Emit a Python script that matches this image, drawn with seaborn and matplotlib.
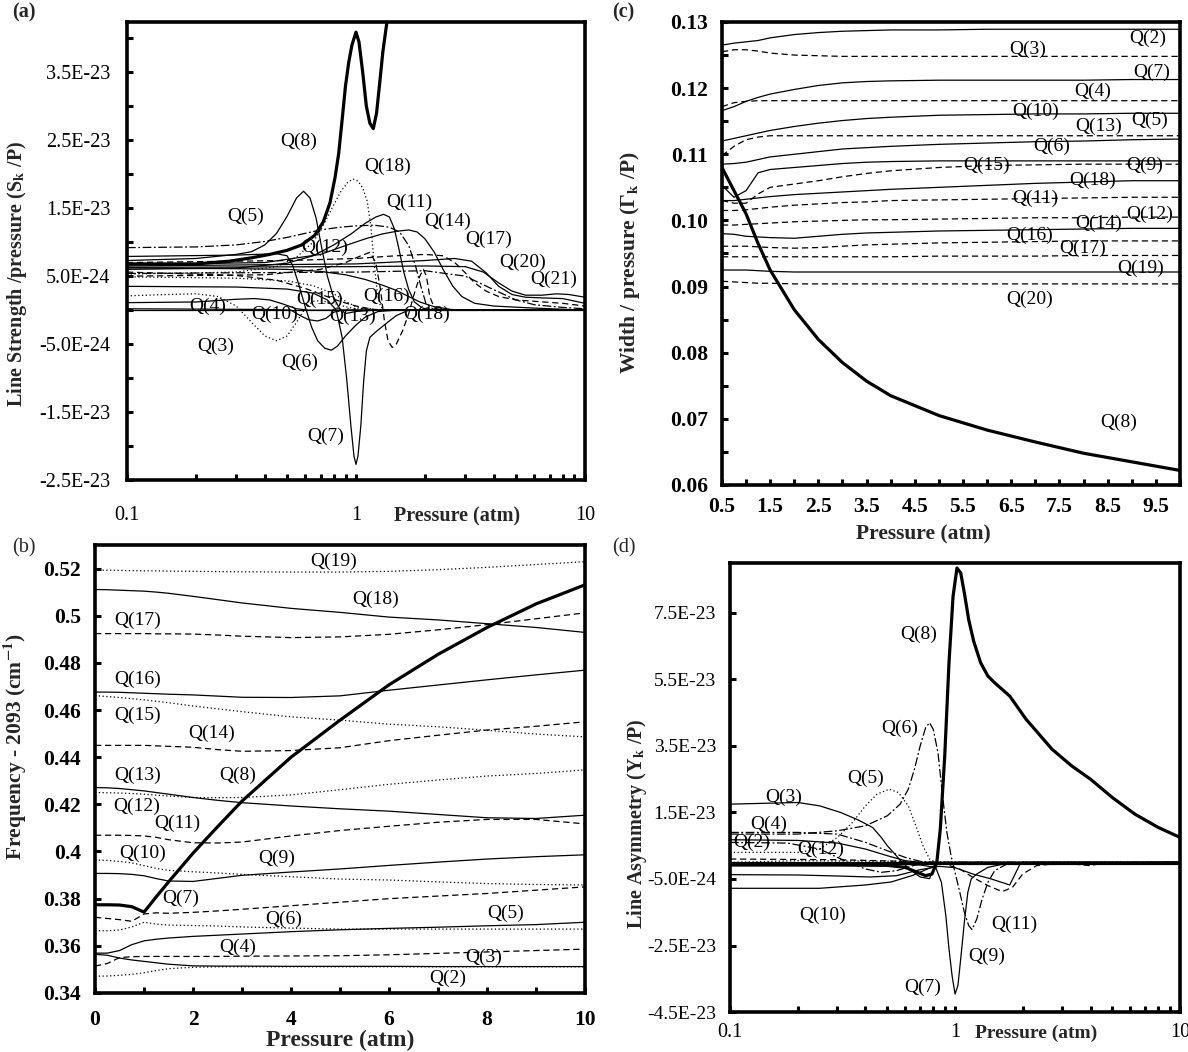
import numpy as np
import matplotlib
matplotlib.use('Agg')
import matplotlib.pyplot as plt
from matplotlib.ticker import FixedLocator, FixedFormatter, NullFormatter, LogLocator, MultipleLocator
import seaborn as sns

# ---------------- (a) line strength / pressure, units of 1E-24 ----------------
a_q2 = [(0.1, 0.0), (10, 0.0)]
a_q3 = [(0.1, 2.1), (0.15, 2.3), (0.2, 2.4), (0.25, 2.0), (0.3, 0.6), (0.35, -1.8), (0.4, -3.8),
        (0.45, -4.5), (0.5, -3.8), (0.55, -1.8), (0.6, 0.3), (0.65, 1.3), (0.7, 1.4), (0.8, 1.0),
        (0.9, 0.5), (1.0, 0.2), (1.5, 0.0), (10, 0.0)]
a_q4 = [(0.1, 1.1), (0.2, 1.2), (0.3, 1.6), (0.36, 1.7), (0.42, 1.5), (0.48, 0.9), (0.55, 0.2),
        (0.62, 0.0), (10, 0.0)]
a_q5 = [(0.1, 7.3), (0.2, 7.6), (0.3, 8.2), (0.35, 8.6), (0.4, 9.6), (0.45, 11.3), (0.5, 13.8),
        (0.55, 16.5), (0.59, 17.5), (0.63, 16.5), (0.67, 13.5), (0.71, 9.0), (0.75, 5.0), (0.8, 1.8),
        (0.85, 0.2), (0.9, -0.5), (1.0, -0.2), (1.2, 0.0), (10, 0.0)]
a_q6 = [(0.1, 7.9), (0.3, 8.1), (0.45, 8.3), (0.5, 8.0), (0.53, 6.5), (0.56, 4.0), (0.6, 0.5),
        (0.64, -2.5), (0.68, -4.5), (0.73, -5.6), (0.78, -5.9), (0.83, -5.3), (0.9, -3.8), (1.0, -2.2),
        (1.1, -1.0), (1.25, -0.2), (1.5, 0.0), (10, 0.0)]
a_q7 = [(0.1, 3.5), (0.3, 3.4), (0.5, 3.1), (0.65, 2.5), (0.75, 1.5), (0.82, 0.0), (0.87, -4.0),
        (0.91, -10.0), (0.95, -17.0), (0.98, -21.5), (1.0, -22.7), (1.02, -21.5), (1.05, -17.0),
        (1.08, -10.5), (1.11, -6.0), (1.15, -4.0), (1.22, -3.2), (1.35, -2.0), (1.5, -0.8), (1.7, 0.0),
        (10, 0.0)]
a_q8 = [(0.1, 6.8), (0.2, 6.8), (0.28, 7.2), (0.35, 7.7), (0.42, 8.2), (0.5, 8.8), (0.58, 9.6),
        (0.66, 11.0), (0.72, 13.0), (0.77, 15.8), (0.81, 19.5), (0.84, 23.0), (0.87, 28.0), (0.9, 33.0),
        (0.93, 36.5), (0.96, 39.0), (1.0, 40.9), (1.03, 39.5), (1.07, 35.0), (1.11, 30.0), (1.15, 27.5),
        (1.19, 26.7), (1.23, 29.0), (1.27, 33.5), (1.31, 38.0), (1.36, 42.0), (1.45, 50.0)]
a_q9 = [(0.1, 5.0), (0.4, 5.2), (0.7, 6.0), (0.9, 7.0), (1.05, 8.0), (1.15, 8.5), (1.22, 7.0),
        (1.28, 3.0), (1.33, -1.5), (1.38, -4.5), (1.44, -5.5), (1.5, -5.0), (1.6, -3.0), (1.7, -0.5),
        (1.8, 2.5), (1.9, 5.0), (1.97, 6.0), (2.03, 5.0), (2.1, 2.0), (2.2, 0.3), (2.4, 0.0), (10, 0.0)]
a_q10 = [(0.1, 0.2), (0.4, 0.1), (0.52, 0.0), (0.57, -0.8), (0.62, -1.4), (0.68, -1.6), (0.74, -1.2),
         (0.8, -0.3), (0.88, 0.0), (10, 0.0)]
a_q11 = [(0.1, 6.0), (0.3, 6.2), (0.5, 6.9), (0.65, 8.0), (0.8, 9.6), (0.95, 11.2), (1.1, 12.8),
         (1.22, 13.7), (1.32, 14.1), (1.4, 13.7), (1.47, 12.0), (1.54, 9.0), (1.62, 5.5), (1.7, 3.0),
         (1.8, 1.2), (1.95, 0.3), (2.2, 0.0), (10, 0.0)]
a_q12 = [(0.1, 9.2), (0.2, 9.3), (0.3, 9.6), (0.4, 10.1), (0.5, 10.7), (0.6, 11.3), (0.7, 11.8),
         (0.85, 12.2), (1.0, 12.4), (1.2, 12.5), (1.4, 12.2), (1.55, 11.5), (1.7, 9.5), (1.82, 6.5),
         (1.92, 3.5), (2.02, 1.0), (2.2, 0.0), (10, 0.0)]
a_q13 = [(0.1, 4.9), (0.3, 4.7), (0.5, 4.3), (0.65, 3.6), (0.8, 2.4), (0.9, 1.3), (1.0, 0.5),
         (1.15, 0.0), (10, 0.0)]
a_q14 = [(0.1, 6.7), (0.4, 7.0), (0.7, 8.2), (0.9, 9.5), (1.1, 10.5), (1.3, 11.2), (1.5, 11.6),
         (1.7, 11.8), (1.85, 11.5), (2.0, 10.5), (2.2, 8.5), (2.4, 6.0), (2.65, 3.5), (2.9, 2.0),
         (3.3, 1.0), (4.0, 0.6), (6.0, 0.3), (10, 0.0)]
a_q15 = [(0.1, 5.6), (0.3, 5.1), (0.45, 4.4), (0.6, 3.2), (0.72, 2.2), (0.85, 1.3), (1.0, 0.6),
         (1.2, 0.1), (1.4, 0.0), (10, 0.0)]
a_q16 = [(0.1, 6.2), (0.3, 6.1), (0.5, 6.0), (0.7, 5.7), (0.9, 5.2), (1.1, 4.5), (1.3, 3.7),
         (1.5, 2.9), (1.7, 2.0), (1.9, 1.2), (2.2, 0.5), (2.6, 0.1), (3.0, 0.0), (10, 0.0)]
a_q17 = [(0.1, 7.0), (0.5, 7.3), (1.0, 7.6), (1.5, 8.0), (2.0, 8.2), (2.4, 8.0), (2.7, 7.0),
         (3.0, 5.5), (3.3, 4.0), (3.7, 2.8), (4.2, 2.0), (5.0, 1.5), (6.0, 1.3), (8.0, 1.0), (10, 0.6)]
a_q18 = [(0.1, 5.3), (0.3, 5.6), (0.45, 6.4), (0.55, 7.8), (0.65, 10.0), (0.72, 12.5), (0.8, 15.5),
         (0.86, 17.5), (0.92, 18.8), (0.97, 19.3), (1.02, 19.0), (1.07, 18.0), (1.12, 16.0),
         (1.16, 12.5), (1.2, 7.0), (1.24, 2.5), (1.28, 0.5), (1.35, 0.0), (10, 0.0)]
a_q19 = [(0.1, 5.4), (1.0, 5.6), (2.0, 5.8), (3.0, 5.0), (4.0, 3.0), (5.0, 1.5), (6.0, 0.8),
         (8.0, 0.4), (10, 0.2)]
a_q20 = [(0.1, 6.5), (1.0, 6.8), (2.0, 7.3), (2.7, 7.6), (3.2, 7.2), (3.7, 5.5), (4.2, 3.5),
         (4.8, 2.3), (5.5, 1.9), (6.5, 1.8), (8.0, 1.7), (10, 1.0)]
a_q21 = [(0.1, 6.3), (1.0, 6.4), (2.0, 6.5), (3.0, 6.4), (3.6, 5.6), (4.2, 4.0), (4.8, 2.8),
         (5.5, 2.2), (6.5, 2.2), (7.5, 2.4), (8.5, 2.3), (10, 1.9)]
a_ticks = [3.5e-23, 2.5e-23, 1.5e-23, 5e-24, -5e-24, -1.5e-23, -2.5e-23]
a_tick_labels = ['3.5E-23', '2.5E-23', '1.5E-23', '5.0E-24', '-5.0E-24', '-1.5E-23', '-2.5E-23']

# ---------------- (c) width / pressure ----------------
c_p = [0.5, 0.75, 1.0, 1.25, 1.5, 2.0, 2.5, 3.0, 3.5, 4.0, 5.0, 6.0, 7.0, 8.0, 9.0, 10.0]
c_q2 = [0.1265, 0.1268, 0.1270, 0.1272, 0.1276, 0.1281, 0.1284, 0.1286, 0.1287, 0.1288, 0.1288, 0.1289, 0.1289, 0.1289, 0.1289, 0.1289]
c_q3 = [0.1255, 0.1258, 0.1258, 0.1256, 0.1253, 0.1250, 0.1249, 0.1248, 0.1248, 0.1248, 0.1248, 0.1248, 0.1248, 0.1248, 0.1248, 0.1248]
c_q7 = [0.1166, 0.1172, 0.1180, 0.1186, 0.1191, 0.1198, 0.1204, 0.1208, 0.1210, 0.1211, 0.1212, 0.1212, 0.1212, 0.1212, 0.1213, 0.1213]
c_q4 = [0.1172, 0.1178, 0.1180, 0.1181, 0.1181, 0.1181, 0.1181, 0.1181, 0.1181, 0.1181, 0.1181, 0.1181, 0.1181, 0.1181, 0.1181, 0.1181]
c_q10 = [0.1120, 0.1124, 0.1128, 0.1132, 0.1136, 0.1142, 0.1147, 0.1151, 0.1154, 0.1156, 0.1159, 0.1160, 0.1161, 0.1161, 0.1162, 0.1162]
c_q13 = [0.1098, 0.1112, 0.1122, 0.1126, 0.1128, 0.1128, 0.1128, 0.1128, 0.1128, 0.1128, 0.1128, 0.1128, 0.1128, 0.1128, 0.1128, 0.1128]
c_q6 = [0.1085, 0.1086, 0.1088, 0.1092, 0.1096, 0.1100, 0.1104, 0.1108, 0.1110, 0.1112, 0.1115, 0.1117, 0.1119, 0.1120, 0.1122, 0.1123]
c_q9 = [0.1053, 0.1035, 0.1045, 0.1072, 0.1077, 0.1080, 0.1083, 0.1086, 0.1088, 0.1089, 0.1090, 0.1090, 0.1090, 0.1090, 0.1090, 0.1090]
c_q15 = [0.1030, 0.1026, 0.1026, 0.1040, 0.1050, 0.1055, 0.1060, 0.1066, 0.1071, 0.1075, 0.1080, 0.1083, 0.1084, 0.1085, 0.1085, 0.1085]
c_q18 = [0.1030, 0.1030, 0.1032, 0.1034, 0.1036, 0.1039, 0.1041, 0.1043, 0.1045, 0.1047, 0.1050, 0.1053, 0.1056, 0.1058, 0.1060, 0.1060]
c_q11 = [0.1015, 0.1015, 0.1016, 0.1018, 0.1020, 0.1023, 0.1025, 0.1027, 0.1028, 0.1030, 0.1031, 0.1032, 0.1033, 0.1034, 0.1035, 0.1035]
c_q12 = [0.0993, 0.0993, 0.0994, 0.0995, 0.0996, 0.0998, 0.0999, 0.1000, 0.1001, 0.1001, 0.1002, 0.1003, 0.1004, 0.1004, 0.1005, 0.1005]
c_q14 = [0.0980, 0.0979, 0.0976, 0.0975, 0.0974, 0.0973, 0.0976, 0.0979, 0.0981, 0.0982, 0.0984, 0.0985, 0.0986, 0.0987, 0.0988, 0.0988]
c_q16 = [0.0961, 0.0961, 0.0961, 0.0960, 0.0959, 0.0958, 0.0959, 0.0961, 0.0963, 0.0964, 0.0966, 0.0967, 0.0968, 0.0969, 0.0969, 0.0969]
c_q17 = [0.0945, 0.0945, 0.0945, 0.0945, 0.0945, 0.0945, 0.0945, 0.0945, 0.0945, 0.0945, 0.0946, 0.0946, 0.0946, 0.0947, 0.0947, 0.0947]
c_q19 = [0.0925, 0.0925, 0.0925, 0.0924, 0.0923, 0.0922, 0.0922, 0.0922, 0.0922, 0.0922, 0.0922, 0.0922, 0.0922, 0.0922, 0.0922, 0.0922]
c_q20 = [0.0908, 0.0907, 0.0906, 0.0905, 0.0905, 0.0904, 0.0904, 0.0904, 0.0904, 0.0904, 0.0904, 0.0904, 0.0904, 0.0904, 0.0904, 0.0904]
c_q8 = [0.1080, 0.1045, 0.1010, 0.0965, 0.0925, 0.0865, 0.0820, 0.0785, 0.0757, 0.0735, 0.0705, 0.0683, 0.0665, 0.0648, 0.0635, 0.0622]
c_ticks = [0.06, 0.07, 0.08, 0.09, 0.10, 0.11, 0.12, 0.13]
c_tick_labels = ['0.06', '0.07', '0.08', '0.09', '0.10', '0.11', '0.12', '0.13']
c_xticks = [0.5, 1.5, 2.5, 3.5, 4.5, 5.5, 6.5, 7.5, 8.5, 9.5]

# ---------------- (b) frequency - 2093 ----------------
b_p = [0, 0.25, 0.5, 0.75, 1.0, 1.25, 1.5, 2, 2.5, 3, 4, 5, 6, 7, 8, 9, 10]
b_q19 = [0.5193, 0.5193, 0.5192, 0.5191, 0.5190, 0.5190, 0.5189, 0.5188, 0.5187, 0.5186, 0.5185, 0.5185, 0.5188, 0.5195, 0.5205, 0.5217, 0.5229]
b_q18 = [0.5111, 0.5110, 0.5108, 0.5106, 0.5104, 0.5100, 0.5095, 0.5082, 0.5068, 0.5054, 0.5031, 0.5014, 0.4994, 0.4982, 0.4966, 0.4950, 0.4929]
b_q17 = [0.4924, 0.4924, 0.4924, 0.4924, 0.4924, 0.4923, 0.4923, 0.4922, 0.4918, 0.4913, 0.4907, 0.4910, 0.4921, 0.4940, 0.4962, 0.4987, 0.5012]
b_q16 = [0.4676, 0.4676, 0.4675, 0.4673, 0.4671, 0.4669, 0.4667, 0.4664, 0.4659, 0.4654, 0.4653, 0.4660, 0.4684, 0.4706, 0.4728, 0.4749, 0.4769]
b_q15 = [0.4661, 0.4657, 0.4653, 0.4648, 0.4643, 0.4637, 0.4631, 0.4617, 0.4605, 0.4593, 0.4571, 0.4557, 0.4540, 0.4529, 0.4514, 0.4498, 0.4486]
b_q14 = [0.4450, 0.4450, 0.4450, 0.4450, 0.4450, 0.4448, 0.4446, 0.4442, 0.4432, 0.4425, 0.4428, 0.4440, 0.4470, 0.4493, 0.4515, 0.4531, 0.4550]
b_q13 = [0.4271, 0.4270, 0.4267, 0.4262, 0.4257, 0.4250, 0.4243, 0.4229, 0.4217, 0.4207, 0.4193, 0.4181, 0.4171, 0.4157, 0.4143, 0.4140, 0.4154]
b_q12 = [0.4250, 0.4249, 0.4248, 0.4246, 0.4243, 0.4239, 0.4235, 0.4229, 0.4228, 0.4229, 0.4240, 0.4262, 0.4285, 0.4303, 0.4320, 0.4331, 0.4346]
b_q11 = [0.4069, 0.4069, 0.4069, 0.4068, 0.4066, 0.4060, 0.4050, 0.4037, 0.4036, 0.4040, 0.4066, 0.4089, 0.4107, 0.4124, 0.4136, 0.4136, 0.4117]
b_q10 = [0.3964, 0.3962, 0.3958, 0.3952, 0.3940, 0.3928, 0.3920, 0.3914, 0.3909, 0.3903, 0.3893, 0.3883, 0.3879, 0.3871, 0.3864, 0.3860, 0.3858]
b_q9 = [0.3907, 0.3907, 0.3906, 0.3903, 0.3897, 0.3885, 0.3875, 0.3873, 0.3886, 0.3899, 0.3913, 0.3926, 0.3941, 0.3955, 0.3968, 0.3978, 0.3986]
b_q8 = [0.3774, 0.3774, 0.3773, 0.3766, 0.3743, 0.3808, 0.3871, 0.3993, 0.4105, 0.4214, 0.4400, 0.4557, 0.4707, 0.4836, 0.4950, 0.5050, 0.5131]
b_q7 = [0.3721, 0.3716, 0.3711, 0.3704, 0.3735, 0.3740, 0.3738, 0.3742, 0.3748, 0.3755, 0.3770, 0.3785, 0.3800, 0.3811, 0.3822, 0.3836, 0.3850]
b_q6 = [0.3664, 0.3664, 0.3667, 0.3680, 0.3700, 0.3692, 0.3688, 0.3686, 0.3684, 0.3680, 0.3675, 0.3671, 0.3671, 0.3671, 0.3671, 0.3671, 0.3671]
b_q5 = [0.3569, 0.3569, 0.3580, 0.3605, 0.3621, 0.3628, 0.3633, 0.3640, 0.3645, 0.3650, 0.3660, 0.3668, 0.3674, 0.3679, 0.3685, 0.3690, 0.3700]
b_q4 = [0.3514, 0.3525, 0.3550, 0.3554, 0.3555, 0.3555, 0.3555, 0.3555, 0.3555, 0.3556, 0.3557, 0.3558, 0.3562, 0.3568, 0.3574, 0.3580, 0.3586]
b_q3 = [0.3564, 0.3560, 0.3548, 0.3540, 0.3534, 0.3528, 0.3522, 0.3515, 0.3514, 0.3514, 0.3513, 0.3513, 0.3513, 0.3512, 0.3512, 0.3512, 0.3512]
b_q2 = [0.3471, 0.3472, 0.3475, 0.3479, 0.3486, 0.3495, 0.3503, 0.3509, 0.3511, 0.3511, 0.3511, 0.3511, 0.3511, 0.3511, 0.3511, 0.3511, 0.3511]
b_ticks = [0.34, 0.36, 0.38, 0.40, 0.42, 0.44, 0.46, 0.48, 0.50, 0.52]
b_tick_labels = ['0.34', '0.36', '0.38', '0.4', '0.42', '0.44', '0.46', '0.48', '0.5', '0.52']

# ---------------- (d) line asymmetry / pressure, units of 1E-24 ----------------
d_q2 = [(0.1, 6.8), (0.2, 6.6), (0.3, 5.8), (0.4, 4.0), (0.5, 2.0), (0.6, 0.5), (0.7, 0.0), (10, 0.0)]
d_q3 = [(0.1, 17.5), (0.15, 17.8), (0.2, 18.0), (0.25, 17.0), (0.31, 15.0), (0.37, 12.8), (0.43, 10.5),
        (0.47, 7.5), (0.5, 5.0), (0.54, 2.5), (0.58, 0.1), (0.64, -2.5), (0.7, -4.4), (0.77, -4.9),
        (0.82, -0.7), (0.9, -0.2), (10, 0.0)]
d_q4 = [(0.1, 9.0), (0.2, 9.0), (0.3, 8.5), (0.4, 6.0), (0.5, 3.5), (0.6, 1.5), (0.7, 0.3), (0.8, 0.0), (10, 0.0)]
d_q5 = [(0.1, 3.0), (0.2, 3.0), (0.25, 4.0), (0.3, 7.5), (0.35, 12.0), (0.4, 17.0), (0.45, 20.5),
        (0.51, 22.0), (0.56, 21.0), (0.62, 17.0), (0.67, 11.0), (0.72, 5.0), (0.77, 1.0), (0.82, 0.0), (10, 0.0)]
d_q6 = [(0.1, 8.5), (0.2, 8.5), (0.3, 9.5), (0.4, 11.0), (0.5, 14.0), (0.57, 17.5), (0.62, 22.0),
        (0.66, 28.0), (0.7, 35.0), (0.74, 40.5), (0.77, 42.0), (0.8, 40.0), (0.84, 33.0), (0.88, 20.0),
        (0.92, 9.0), (0.96, 2.0), (1.0, -3.0), (1.05, -9.0), (1.1, -15.0), (1.15, -19.0), (1.19, -20.2),
        (1.25, -17.0), (1.32, -11.0), (1.4, -6.0), (1.5, -2.5), (1.7, -0.5), (2.0, 0.0), (10, 0.0)]
d_q7 = [(0.1, -0.3), (0.5, -0.4), (0.7, -0.8), (0.82, -1.5), (0.87, -6.0), (0.91, -16.0), (0.94, -26.0),
        (0.97, -34.0), (1.0, -39.6), (1.03, -37.0), (1.06, -29.0), (1.1, -18.0), (1.14, -9.0),
        (1.18, -5.0), (1.25, -3.5), (1.4, -1.5), (1.7, -0.3), (10, 0.0)]
d_q8 = [(0.1, -0.8), (0.3, -0.8), (0.5, -0.9), (0.6, -1.5), (0.68, -3.0), (0.74, -4.0), (0.79, -3.5),
        (0.83, 0.0), (0.86, 10.0), (0.9, 32.0), (0.94, 60.0), (0.98, 80.0), (1.02, 88.5), (1.06, 87.0),
        (1.1, 81.0), (1.15, 73.0), (1.21, 66.5), (1.3, 60.0), (1.4, 56.0), (1.5, 54.0), (1.75, 50.0),
        (2.07, 43.0), (2.4, 38.0), (2.7, 34.0), (3.3, 29.0), (4.0, 25.0), (5.0, 19.5), (6.3, 14.5),
        (8.0, 10.5), (10, 7.5)]
d_q9 = [(0.1, -3.7), (0.2, -3.8), (0.3, -4.1), (0.42, -4.4), (0.55, -4.0), (0.7, -2.2), (0.85, -1.2),
        (1.0, -1.6), (1.2, -3.5), (1.45, -5.0), (1.75, -6.8), (1.85, -3.5), (1.95, -0.3), (2.2, 0.0), (10, 0.0)]
d_q10 = [(0.1, -7.8), (0.25, -7.8), (0.4, -6.8), (0.52, -5.9), (0.65, -3.9), (0.76, -1.9), (0.85, -0.4),
         (1.0, 0.0), (10, 0.0)]
d_q11 = [(0.1, 1.0), (0.3, 0.8), (0.6, 0.3), (0.9, -0.5), (1.05, -2.0), (1.2, -4.5), (1.4, -7.0),
         (1.62, -8.8), (1.8, -7.5), (2.0, -3.5), (2.3, -1.0), (3.0, -0.2), (4.0, -1.0), (4.5, -0.2), (10, 0.0)]
d_q12 = [(0.1, 6.0), (0.18, 5.8), (0.25, 4.0), (0.3, 1.5), (0.35, -0.5), (0.4, -2.0), (0.47, -3.0),
         (0.55, -2.5), (0.65, -1.0), (0.75, 0.0), (10, 0.0)]
d_q13 = [(0.1, 0.0), (0.2, 0.5), (0.6, 0.3), (1.0, 0.0), (10, 0.0)]
d_q14 = [(0.1, -0.3), (10, -0.3)]
d_ticks = [7.5e-23, 5.5e-23, 3.5e-23, 1.5e-23, -5e-24, -2.5e-23, -4.5e-23]
d_tick_labels = ['7.5E-23', '5.5E-23', '3.5E-23', '1.5E-23', '-5.0E-24', '-2.5E-23', '-4.5E-23']

# ---------------- style ----------------
sns.set_style('white')
plt.rcParams['font.family'] = ['Liberation Serif', 'DejaVu Serif']
plt.rcParams['mathtext.fontset'] = 'stix'

LS = {
    'solid': ('-', 0.9),
    'thick': ('-', 2.3),
    'dash': ((0, (5, 3)), 0.9),
    'dot': ((0, (1, 2)), 0.9),
    'dashdot': ((0, (7, 2, 1.5, 2)), 0.9),
}
QFS = 14
TFS = 14.5


def draw(ax, x, y, kind):
    ls, lw = LS[kind]
    sns.lineplot(x=x, y=y, ax=ax, color='black', linestyle=ls, linewidth=lw,
                 estimator=None, sort=False)


def draw_pairs(ax, pts, kind, scale=1e-24):
    draw(ax, [p for p, _ in pts], [v * scale for _, v in pts], kind)


def frame(ax):
    for s in ax.spines.values():
        s.set_linewidth(2.6)
        s.set_color('black')
    ax.tick_params(which='both', direction='in', length=4, width=2.2, top=False, right=False,
                   left=True, bottom=True, colors='black')


def label(ax, txt, x, y, scale=1.0):
    ax.text(x, y * scale, txt, ha='center', va='center', fontsize=QFS, color='black')


fig = plt.figure(figsize=(11.88, 10.52), dpi=100)

# ================= (a) =================
ax = fig.add_axes([0.1069, 0.5437, 0.3855, 0.4354])
ax.set_xscale('log')
for pts, kind in [(a_q2, 'solid'), (a_q3, 'dot'), (a_q4, 'solid'), (a_q5, 'solid'), (a_q6, 'solid'),
                  (a_q7, 'solid'), (a_q9, 'dash'), (a_q10, 'solid'), (a_q11, 'solid'),
                  (a_q12, 'dashdot'), (a_q13, 'dot'), (a_q14, 'solid'), (a_q15, 'dash'),
                  (a_q16, 'solid'), (a_q17, 'dash'), (a_q18, 'dot'), (a_q19, 'dashdot'),
                  (a_q20, 'solid'), (a_q21, 'solid'), (a_q8, 'thick')]:
    draw_pairs(ax, pts, kind)
ax.set_xlim(0.1, 10)
ax.set_ylim(-2.5e-23, 4.24e-23)
ax.xaxis.set_major_locator(FixedLocator([0.1, 1, 10]))
ax.xaxis.set_major_formatter(FixedFormatter(['0.1', '1', '10']))
ax.xaxis.set_minor_locator(LogLocator(base=10, subs=np.arange(2, 10)))
ax.xaxis.set_minor_formatter(NullFormatter())
ax.yaxis.set_major_locator(FixedLocator(a_ticks))
ax.yaxis.set_major_formatter(FixedFormatter(a_tick_labels))
ax.yaxis.set_minor_locator(FixedLocator([4e-23, 3e-23, 2e-23, 1e-23, 0, -1e-23, -2e-23]))
frame(ax)
ax.tick_params(axis='x', labelsize=TFS, pad=19)
ax.tick_params(axis='y', labelsize=TFS, pad=12)
ax.set_xlabel('Pressure (atm)', fontsize=TFS, fontweight='bold')
ax.xaxis.set_label_coords(0.72, -0.058)
ax.set_ylabel(r'Line Strength /pressure (S$_\mathbf{k}$ /P)', fontsize=TFS, fontweight='bold')
ax.yaxis.set_label_coords(-0.215, 0.45)
for txt, x, y in [('Q(8)', 0.56, 24.9), ('Q(18)', 1.38, 21.1), ('Q(5)', 0.33, 13.8),
                  ('Q(11)', 1.71, 15.8), ('Q(14)', 2.52, 13.1), ('Q(17)', 3.78, 10.4),
                  ('Q(20)', 5.35, 7.0), ('Q(21)', 7.28, 4.5), ('Q(12)', 0.73, 9.2),
                  ('Q(15)', 0.69, 1.6), ('Q(16)', 1.36, 2.1), ('Q(4)', 0.225, 0.6),
                  ('Q(10)', 0.44, -0.6), ('Q(13)', 0.97, -0.9), ('Q(18)', 2.04, -0.6),
                  ('Q(3)', 0.243, -5.3), ('Q(6)', 0.57, -7.7), ('Q(7)', 0.74, -18.5)]:
    label(ax, txt, x, y, 1e-24)

# ================= (c) =================
ax = fig.add_axes([0.6077, 0.5390, 0.3855, 0.4401])
for ys, kind in [(c_q2, 'solid'), (c_q3, 'dash'), (c_q7, 'solid'), (c_q4, 'dash'), (c_q10, 'solid'),
                 (c_q13, 'dash'), (c_q6, 'solid'), (c_q9, 'solid'), (c_q15, 'dash'), (c_q18, 'solid'),
                 (c_q11, 'dash'), (c_q12, 'dash'), (c_q14, 'solid'), (c_q16, 'dash'),
                 (c_q17, 'dash'), (c_q19, 'solid'), (c_q20, 'dash'), (c_q8, 'thick')]:
    draw(ax, c_p, ys, kind)
ax.set_xlim(0.5, 10)
ax.set_ylim(0.06, 0.13)
ax.xaxis.set_major_locator(FixedLocator(c_xticks))
ax.xaxis.set_major_formatter(FixedFormatter([f'{t:.1f}' for t in c_xticks]))
ax.xaxis.set_minor_locator(MultipleLocator(0.5))
ax.yaxis.set_major_locator(FixedLocator(c_ticks))
ax.yaxis.set_major_formatter(FixedFormatter(c_tick_labels))
ax.yaxis.set_minor_locator(MultipleLocator(0.005))
frame(ax)
ax.tick_params(axis='both', labelsize=TFS + 1)
ax.tick_params(axis='x', pad=9)
ax.tick_params(axis='y', pad=10)
for t in ax.get_xticklabels() + ax.get_yticklabels():
    t.set_fontweight('bold')
ax.set_xlabel('Pressure (atm)', fontsize=TFS + 1, fontweight='bold')
ax.xaxis.set_label_coords(0.44, -0.085)
ax.set_ylabel(r'Width / pressure (Γ$_\mathbf{k}$ /P)', fontsize=TFS + 1, fontweight='bold')
ax.yaxis.set_label_coords(-0.175, 0.48)
for txt, x, y in [('Q(2)', 9.33, 0.1275), ('Q(3)', 6.85, 0.1258), ('Q(7)', 9.41, 0.1224),
                  ('Q(4)', 8.19, 0.1195), ('Q(10)', 7.01, 0.1165), ('Q(13)', 8.31, 0.1142),
                  ('Q(5)', 9.37, 0.1152), ('Q(6)', 7.33, 0.1112), ('Q(15)', 5.99, 0.1083),
                  ('Q(9)', 9.26, 0.1084), ('Q(18)', 8.19, 0.1060), ('Q(11)', 7.01, 0.1033),
                  ('Q(12)', 9.37, 0.1009), ('Q(14)', 8.31, 0.0995), ('Q(16)', 6.89, 0.0977),
                  ('Q(17)', 7.99, 0.0958), ('Q(19)', 9.18, 0.0928), ('Q(20)', 6.89, 0.0880),
                  ('Q(8)', 8.74, 0.0695)]:
    label(ax, txt, x, y)

# ================= (b) =================
ax = fig.add_axes([0.0800, 0.0561, 0.4125, 0.4259])
for ys, kind in [(b_q19, 'dot'), (b_q18, 'solid'), (b_q17, 'dash'), (b_q16, 'solid'), (b_q15, 'dot'),
                 (b_q14, 'dash'), (b_q13, 'solid'), (b_q12, 'dot'), (b_q11, 'dash'), (b_q10, 'dot'),
                 (b_q9, 'solid'), (b_q7, 'dash'), (b_q6, 'dot'), (b_q5, 'solid'), (b_q4, 'dash'),
                 (b_q3, 'solid'), (b_q2, 'dot'), (b_q8, 'thick')]:
    draw(ax, b_p, ys, kind)
ax.set_xlim(0, 10)
ax.set_ylim(0.34, 0.53)
ax.xaxis.set_major_locator(FixedLocator([0, 2, 4, 6, 8, 10]))
ax.xaxis.set_major_formatter(FixedFormatter(['0', '2', '4', '6', '8', '10']))
ax.xaxis.set_minor_locator(MultipleLocator(1))
ax.yaxis.set_major_locator(FixedLocator(b_ticks))
ax.yaxis.set_major_formatter(FixedFormatter(b_tick_labels))
frame(ax)
ax.tick_params(axis='both', labelsize=TFS + 1)
ax.tick_params(axis='x', pad=12)
ax.tick_params(axis='y', pad=10)
for t in ax.get_xticklabels() + ax.get_yticklabels():
    t.set_fontweight('bold')
ax.set_xlabel('Pressure (atm)', fontsize=TFS + 2.5, fontweight='bold')
ax.xaxis.set_label_coords(0.5, -0.083)
ax.set_ylabel(r'Frequency - 2093 (cm$^{\mathbf{-1}}$)', fontsize=TFS + 1, fontweight='bold')
ax.yaxis.set_label_coords(-0.135, 0.55)
for txt, x, y in [('Q(19)', 4.86, 0.5229), ('Q(18)', 5.72, 0.5071), ('Q(17)', 0.86, 0.4979),
                  ('Q(16)', 0.86, 0.4729), ('Q(15)', 0.86, 0.4579), ('Q(14)', 2.37, 0.4503),
                  ('Q(13)', 0.86, 0.4321), ('Q(8)', 2.92, 0.4321), ('Q(12)', 0.86, 0.4193),
                  ('Q(11)', 1.67, 0.4121), ('Q(10)', 0.97, 0.3993), ('Q(9)', 3.70, 0.3971),
                  ('Q(7)', 1.75, 0.3800), ('Q(6)', 3.85, 0.3714), ('Q(5)', 8.37, 0.3736),
                  ('Q(4)', 2.92, 0.3593), ('Q(3)', 7.94, 0.3550), ('Q(2)', 7.20, 0.3464)]:
    label(ax, txt, x, y)

# ================= (d) =================
ax = fig.add_axes([0.6145, 0.0380, 0.3788, 0.4268])
ax.set_xscale('log')
for pts, kind in [(d_q14, 'thick'), (d_q2, 'solid'), (d_q3, 'solid'), (d_q4, 'dashdot'),
                  (d_q5, 'dot'), (d_q6, 'dashdot'), (d_q7, 'solid'), (d_q9, 'solid'),
                  (d_q10, 'solid'), (d_q11, 'dash'), (d_q12, 'dashdot'), (d_q13, 'dot'),
                  (d_q8, 'thick')]:
    draw_pairs(ax, pts, kind)
ax.set_xlim(0.1, 10)
ax.set_ylim(-4.5e-23, 9.0e-23)
ax.xaxis.set_major_locator(FixedLocator([0.1, 1, 10]))
ax.xaxis.set_major_formatter(FixedFormatter(['0.1', '1', '10']))
ax.xaxis.set_minor_locator(LogLocator(base=10, subs=np.arange(2, 10)))
ax.xaxis.set_minor_formatter(NullFormatter())
ax.yaxis.set_major_locator(FixedLocator(d_ticks))
ax.yaxis.set_major_formatter(FixedFormatter(d_tick_labels))
frame(ax)
ax.tick_params(axis='x', labelsize=TFS, pad=8)
ax.tick_params(axis='y', labelsize=TFS - 0.5, pad=10)
ax.set_xlabel('Pressure (atm)', fontsize=TFS - 0.5, fontweight='bold')
ax.xaxis.set_label_coords(0.68, -0.028)
ax.set_ylabel(r'Line Asymmetry (Y$_\mathbf{k}$ /P)', fontsize=TFS, fontweight='bold')
ax.yaxis.set_label_coords(-0.18, 0.42)
for txt, x, y in [('Q(8)', 0.69, 68.6), ('Q(6)', 0.57, 40.3), ('Q(5)', 0.40, 25.4),
                  ('Q(3)', 0.174, 19.4), ('Q(4)', 0.148, 11.5), ('Q(2)', 0.125, 6.0),
                  ('Q(12)', 0.254, 4.0), ('Q(10)', 0.259, -15.8), ('Q(11)', 1.84, -18.7),
                  ('Q(9)', 1.38, -28.2), ('Q(7)', 0.72, -37.6)]:
    label(ax, txt, x, y, 1e-24)

# panel letters
for txt, x, y, w in [('(a)', 12, 12, 'bold'), ('(c)', 612, 12, 'bold'),
                     ('(b)', 12, 548, 'normal'), ('(d)', 612, 548, 'normal')]:
    fig.text(x / 1188, 1 - y / 1052, txt, ha='left', va='center', fontsize=TFS, fontweight=w)

fig.savefig('out.png', dpi=100)
